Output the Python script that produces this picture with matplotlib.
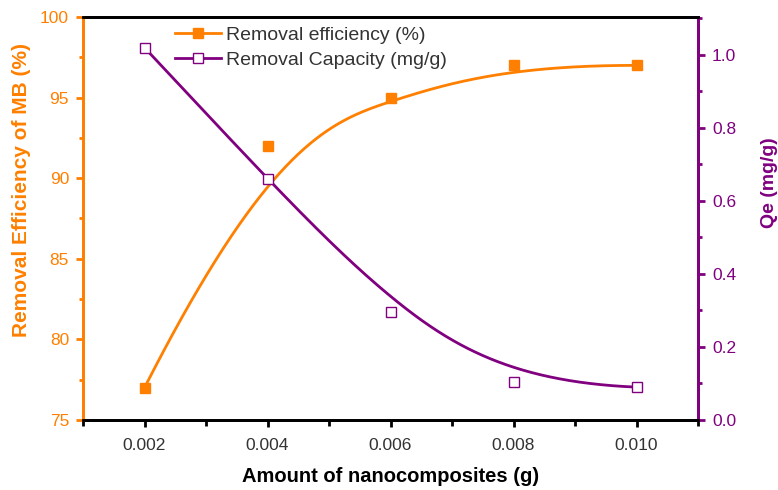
import numpy as np
import matplotlib.pyplot as plt
from matplotlib.lines import Line2D
from matplotlib.ticker import MultipleLocator, FormatStrFormatter

plt.rcParams['font.family'] = ['Liberation Sans', 'DejaVu Sans']

# adsorbent dose (g)
dose = [0.002, 0.004, 0.006, 0.008, 0.010]
removal_eff = [77.0, 92.0, 95.0, 97.0, 97.0]      # %
removal_cap = [1.02, 0.66, 0.296, 0.104, 0.090]   # mg/g

ORANGE = '#ff8000'
PURPLE = '#800080'
GREY = '#333333'


def bspline(xs, ys, n=300):
    """Clamped cubic B-spline using the points as control points."""
    P = np.column_stack([xs, ys])
    k = 3
    m = len(P)
    inner = np.linspace(0, 1, m - k + 1)[1:-1]
    knots = np.concatenate([np.zeros(k + 1), inner, np.ones(k + 1)])
    t = np.linspace(0, 1, n)
    out = []
    for tt in t:
        # Cox-de Boor recursion
        N = np.zeros(len(knots) - 1)
        for i in range(len(knots) - 1):
            if knots[i] <= tt < knots[i + 1]:
                N[i] = 1.0
        if tt >= 1.0:
            N[m - 1] = 1.0
        for d in range(1, k + 1):
            Nn = np.zeros(len(knots) - 1 - d)
            for i in range(len(Nn)):
                a = 0.0
                if knots[i + d] != knots[i]:
                    a = (tt - knots[i]) / (knots[i + d] - knots[i]) * N[i]
                b = 0.0
                if knots[i + d + 1] != knots[i + 1]:
                    b = (knots[i + d + 1] - tt) / (knots[i + d + 1] - knots[i + 1]) * N[i + 1]
                Nn[i] = a + b
            N = Nn
        out.append(N[:m] @ P)
    out = np.array(out)
    return out[:, 0], out[:, 1]


fig = plt.figure(figsize=(7.78, 4.9), dpi=100)
ax = fig.add_axes([0.1067, 0.1429, 0.7905, 0.8224])
ax2 = ax.twinx()

cx, cy = bspline(dose, removal_eff)
ax.plot(cx, cy, color=ORANGE, lw=2, zorder=3)
ax.plot(dose, removal_eff, 's', color=ORANGE, ms=7, zorder=4)

cx2, cy2 = bspline(dose, removal_cap)
ax2.plot(cx2, cy2, color=PURPLE, lw=2, zorder=3)
ax2.plot(dose, removal_cap, 's', mfc='white', mec=PURPLE, mew=1, ms=7, zorder=4)

ax.set_xlim(0.001, 0.011)
ax.set_ylim(75, 100)
ax2.set_ylim(0.0, 1.104)

ax.xaxis.set_major_locator(MultipleLocator(0.002))
ax.xaxis.set_minor_locator(MultipleLocator(0.001))
ax.xaxis.set_major_formatter(FormatStrFormatter('%.3f'))
ax.yaxis.set_major_locator(MultipleLocator(5))
ax.yaxis.set_minor_locator(MultipleLocator(2.5))
ax2.yaxis.set_major_locator(MultipleLocator(0.2))
ax2.yaxis.set_minor_locator(MultipleLocator(0.1))
ax2.yaxis.set_major_formatter(FormatStrFormatter('%.1f'))

for a in (ax, ax2):
    for s in a.spines.values():
        s.set_linewidth(2)
    a.spines['top'].set_color('black')
    a.spines['bottom'].set_color('black')
    a.spines['left'].set_color(ORANGE)
    a.spines['right'].set_color(PURPLE)

ax.tick_params(axis='x', which='both', direction='out', width=2, colors='black',
               labelcolor=GREY, labelsize=12.5)
ax.tick_params(axis='x', which='major', length=5, pad=8)
ax.tick_params(axis='x', which='minor', length=4)
ax.tick_params(axis='y', which='both', direction='out', width=2, colors=ORANGE,
               labelsize=12.5)
ax.tick_params(axis='y', which='major', length=5, pad=5)
ax.tick_params(axis='y', which='minor', length=3)
ax2.tick_params(axis='y', which='both', direction='out', width=2, colors=PURPLE,
                labelsize=12.5)
ax2.tick_params(axis='y', which='major', length=5, pad=5)
ax2.tick_params(axis='y', which='minor', length=3)

ax.set_xlabel('Amount of nanocomposites (g)', fontsize=14.5, fontweight='bold',
              color='black', labelpad=10)
ax.set_ylabel('Removal Efficiency of MB (%)', fontsize=15, fontweight='bold',
              color=ORANGE)
ax.yaxis.set_label_coords(-0.085, 0.57)
ax2.set_ylabel('Qe (mg/g)', fontsize=14, fontweight='bold', color=PURPLE,
               rotation=90)
ax2.yaxis.set_label_coords(1.103, 0.59)

handles = [
    Line2D([], [], color=ORANGE, lw=2, marker='s', ms=7),
    Line2D([], [], color=PURPLE, lw=2, marker='s', ms=7, mfc='white', mew=1),
]
leg = ax2.legend(handles, ['Removal efficiency (%)', 'Removal Capacity (mg/g)'],
                 loc='upper left', bbox_to_anchor=(0.1496, 0.976), frameon=False,
                 fontsize=14, handlelength=2.37, labelspacing=0.35,
                 handletextpad=0.25, borderpad=0, borderaxespad=0)
for t in leg.get_texts():
    t.set_color(GREY)

fig.savefig('out.png', dpi=100)
